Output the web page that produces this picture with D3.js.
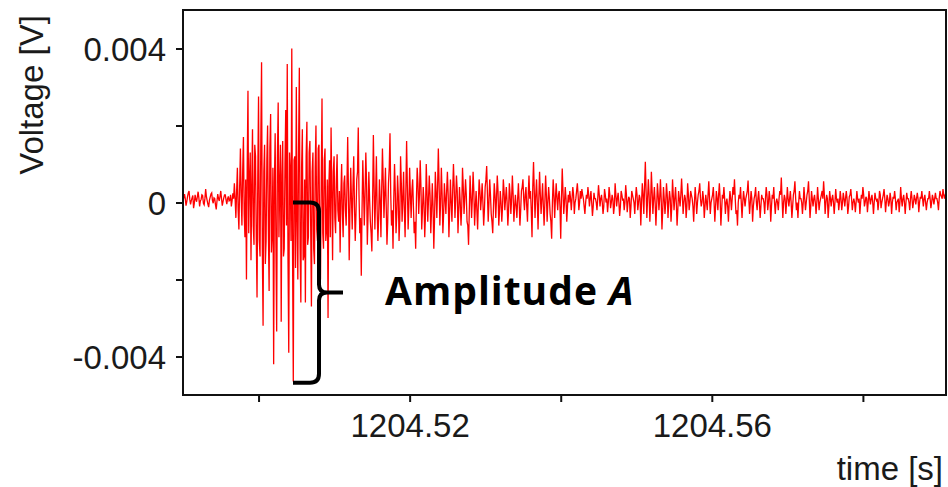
<!DOCTYPE html>
<html>
<head>
<meta charset="utf-8">
<script src="https://cdn.jsdelivr.net/npm/d3@7"></script>
<style>
  body { margin: 0; background: #ffffff; }
  svg text { font-family: "Liberation Sans", Arial, Helvetica, sans-serif; }
</style>
</head>
<body>
<svg id="chart" width="948" height="487"></svg>
<script>
// Recording: acoustic emission burst, sampled at 10 kHz
const startTime = 1204.490;      // s, first sample
const sampleInterval = 0.0001;   // s between samples

// Sensor voltage in millivolts, one value per sample
const voltage_mV = [
  // quiet baseline before the event
  0.05,0.12, 0.22,0.10, -0.08,0.02, 0.15,0.25, 0.30,0.08, -0.05,0.05, 0.12,0.18, -0.15,-0.02, 0.20,0.08, 0.02,0.15,
  0.28,0.12, -0.10,0.04, 0.08,0.20, 0.18,-0.02, -0.06,0.10, 0.35,0.15, 0.05,-0.05, -0.12,0.06, 0.14,0.22, 0.25,0.05,
  -0.02,0.12, 0.10,-0.06, -0.18,0.04, 0.22,0.10, 0.04,0.16, 0.30,0.10, -0.08,0.02, 0.12,0.20, 0.20,0.06, -0.04,0.10,
  0.16,0.04, 0.06,0.20, -0.10,0.05, 0.24,0.10,
  // onset and main burst
  0.5,0.1, -0.4,0.3, 0.9,-0.2, -0.7,0.4, 1.4,0.2, -0.6,0.8, 1.7,-0.3, -0.9,0.6,
  -2.0,0.9, 2.9,-0.8, 0.6,1.3, -1.5,0.4, 1.9,-0.6, -1.1,1.5, 1.2,-0.9, -2.47,0.7, 2.75,-1.0, -1.4,1.6,
  3.64,-1.2, -3.2,0.8, 1.5,-1.6, -1.0,1.1, 2.0,-0.7, -2.3,1.4, 2.3,-1.3, -0.8,0.9, -4.2,0.5, 1.8,-1.1,
  -3.35,1.2, 2.6,-0.9, 0.4,1.5, -3.1,0.7, 1.6,-1.4, -1.2,1.0, 2.4,-0.6, 3.6,-1.5, -3.9,1.3, 0.8,-1.0,
  4.0,-1.3, -4.65,1.1, 1.2,-1.7, 3.0,-0.5, -2.0,1.4, 3.5,-1.2, -2.6,0.9, 1.9,-1.5, -1.4,0.6, -2.6,1.2,
  2.1,-1.1, -0.9,1.3, 1.6,-0.6, -2.7,0.8, 1.3,-1.2, -1.6,0.9, 2.0,-0.7, -1.0,1.4, 1.5,-1.3, -2.0,0.5,
  2.7,-0.8, -1.2,1.1, 1.4,-1.0, -0.7,0.6, -3.0,0.4, 1.1,-0.9, 1.95,0.3, -1.5,0.8,
  // decaying coda
  1.2,-0.4, -0.8,0.6, 1.25,-0.2, -0.5,0.3, -1.3,0.2, 1.0,-0.3, -0.9,0.5, 0.7,-0.2, -0.6,0.4, 1.7,0.3,
  -1.5,-0.2, 0.9,0.1, -0.7,0.4, 1.2,-0.1, -1.0,-0.3, 0.6,0.8, 1.95,0.2, -0.8,-0.4, -1.9,-0.2, 1.1,0.3,
  -0.6,0.2, 1.3,0.5, -1.1,-0.3, 0.8,0.1, -0.5,-0.8, -1.27,0.0, 1.75,0.4, -0.7,0.2, 1.2,-0.2, -1.0,-0.4,
  0.6,0.1, -0.9,0.3, 1.4,0.6, -0.4,0.2, 0.9,-0.1, -1.1,-0.5, 0.5,0.9, 1.8,0.2, -0.6,-0.2, -1.2,0.1,
  1.0,0.3, -0.8,-0.3, 0.7,0.2, -1.0,-0.4, 1.2,0.5, -0.5,0.1, 0.8,-0.2, -0.9,0.3, 1.6,0.4, -0.7,-0.1,
  0.9,0.2, -0.4,0.3, 0.6,-0.1, -0.8,-0.5, -1.2,0.1, 0.9,0.5, -0.3,0.2, 1.1,0.4, -0.7,-0.2, 0.4,0.0,
  -0.9,-0.3, 1.0,0.3, -0.5,0.1, 0.7,0.2, -0.8,-0.2, 0.5,-0.1, -1.2,-0.4, 0.8,0.3, -0.4,0.4, 1.4,0.5,
  -0.6,0.0, 0.9,0.2, -0.8,-0.3, 0.5,0.1, -0.3,0.3, 0.8,0.2, -0.9,-0.2, 0.6,0.0, -0.5,0.3, 1.0,0.4,
  -0.4,0.1, 0.7,0.3, -0.8,-0.2, 0.4,0.0, -0.6,-0.1, 0.9,0.4, -0.3,0.1, 0.6,0.2, -0.5,-0.6, -1.1,-0.2,
  0.7,0.2, -0.4,0.1, 0.8,0.3, -0.6,-0.1, 0.3,-0.2, -0.7,0.0, 0.6,0.3, -0.2,0.1, 0.5,0.0, -0.6,-0.2,
  0.4,0.6, 0.95,0.2, -0.5,0.0, 0.6,0.2, -0.3,-0.5, -0.8,-0.1, 0.5,0.2, -0.4,0.1, 0.7,0.3, -0.6,-0.2,
  0.3,0.0, -0.5,-0.1, 0.6,0.3, -0.2,0.1, 0.4,0.0, -0.6,-0.2, 0.5,0.2, -0.3,0.1, 0.7,0.2, -0.5,-0.1,
  0.2,-0.1, -0.4,0.1, 0.5,0.0, -0.6,-0.2, 0.3,0.4, 0.6,0.1, -0.2,0.2, 0.4,-0.1, -0.5,0.2, 0.7,0.1,
  0.3,-0.2, -0.9,0.4, 1.05,0.3, -0.4,0.2, 0.6,0.0, -0.7,0.1, 0.8,0.2, -0.3,0.1, 0.5,-0.1, -0.6,0.0,
  0.7,0.2, -0.5,0.0, 0.4,0.1, -0.3,-0.5, -0.94,0.0, 0.6,0.2, -0.4,0.1, 0.5,0.1, -0.2,0.2, 0.3,-0.1,
  -0.94,0.1, 0.88,0.3, -0.3,0.0, 0.4,0.1, -0.5,-0.1, 0.2,0.0,
  // residual noise
  0.3,0.1, -0.2,0.1, 0.4,0.2, -0.3,0.0, 0.1,0.3, 0.5,0.2, -0.2,0.0, 0.3,0.1, 0.35,0.2, 0.1,-0.1,
  -0.3,0.0, 0.2,0.1, 0.4,0.2, -0.1,0.1, 0.3,0.0, -0.35,-0.1, 0.25,0.1, 0.1,0.0, -0.2,0.1, 0.45,0.2,
  -0.1,0.1, 0.2,0.0, -0.3,-0.1, 0.35,0.2, 0.0,0.1, -0.25,0.0, 0.4,0.2, -0.15,0.0, 0.2,0.1, -0.3,-0.1,
  0.5,0.2, -0.1,0.1, 0.25,0.0, -0.35,-0.1, 0.3,0.2, 0.05,0.1, -0.2,0.0, 0.45,0.2, -0.25,0.0, 0.15,0.1,
  -0.4,-0.1, 0.3,0.2, 0.1,0.0, -0.3,0.1, 0.4,0.2, -0.2,0.0, 0.2,0.1,
  -0.6,0.0, 0.5,0.2, -0.3,0.4, 1.06,0.3, -0.4,0.1, 0.6,0.2, -0.5,0.0, 0.8,0.3, -0.3,0.1, 0.4,0.0,
  -0.6,-0.1, 0.5,0.2, -0.2,0.1, 0.6,0.1, -0.7,-0.2, 0.4,0.1, -0.3,0.0,
  0.5,0.2, -0.4,0.0, 0.3,0.1, -0.5,-0.1, 0.6,0.2, -0.2,0.1, 0.4,0.0, -0.6,-0.2, 0.3,0.1, -0.1,0.2,
  0.62,0.2, -0.3,0.0, 0.2,0.1, -0.4,-0.1, 0.5,0.2, -0.2,0.0, 0.3,0.2, 0.1,-0.1, -0.5,0.0, 0.4,0.1,
  -0.3,0.0, 0.2,0.3, 0.5,0.1, -0.1,0.0, 0.3,0.1, -0.4,-0.1, 0.2,0.0, -0.2,0.2, 0.55,0.1, -0.3,0.0,
  0.1,0.2, 0.4,0.0, -0.5,-0.1, 0.3,0.1, -0.2,0.2, 0.5,0.1, -0.6,-0.2, 0.2,0.1, 0.4,0.1, -0.3,0.0,
  0.1,-0.1, -0.5,0.0, 0.3,0.1, -0.2,0.1, 0.4,0.2, 0.6,0.1, -0.3,-0.2, -0.6,0.0, 0.2,0.1, 0.4,0.0,
  -0.4,0.0, 0.3,0.1, -0.1,0.1, 0.2,0.3, 0.57,0.1, -0.3,0.0, 0.3,0.1, -0.5,-0.1, 0.1,0.2, 0.4,0.0,
  -0.2,0.1, 0.3,0.0, -0.4,-0.1, 0.2,0.1, 0.1,0.0, -0.3,0.1, 0.4,0.2, -0.2,0.0, 0.3,0.1, -0.5,-0.1,
  0.2,0.1, 0.4,0.0, -0.3,0.0, 0.1,0.0, -0.2,0.1, 0.3,0.2, 0.65,0.1, -0.4,0.0, 0.2,0.1, -0.3,0.0,
  0.4,0.1, -0.1,0.1, 0.3,0.0, -0.4,-0.1, 0.2,0.3, 0.55,0.1, -0.2,0.0, -0.4,0.0, 0.3,0.1, 0.1,0.0,
  -0.3,0.0, 0.4,0.1, -0.2,0.0, 0.2,0.3, 0.55,0.1, -0.4,-0.1, 0.3,0.1, -0.1,0.1, 0.2,0.0, -0.3,0.0,
  0.4,0.1, -0.2,0.0, 0.1,0.2, 0.3,0.1, 0.55,0.2, -0.3,0.0, 0.2,0.1, -0.4,-0.1, 0.3,0.1, -0.1,0.1,
  0.2,0.0, -0.3,0.0, 0.35,0.1, 0.0,0.1, -0.2,0.0, 0.3,0.1,
  -0.2,0.0, 0.25,0.1, -0.1,0.1, 0.3,0.1, -0.3,-0.1, 0.15,0.2, 0.35,0.1, -0.2,0.0, 0.1,0.0, -0.25,0.0,
  0.3,0.1, 0.0,0.1, -0.3,0.0, 0.2,0.1, 0.4,0.2, -0.1,0.0, 0.15,0.1, -0.25,0.0, 0.3,0.1, -0.05,0.1,
  0.2,0.0, -0.3,0.0, 0.25,0.1, 0.05,0.1, -0.2,0.0, 0.3,0.2, -0.15,0.0, 0.1,0.2, 0.35,0.1, -0.25,0.0,
  0.2,0.1, -0.1,0.0, 0.25,0.1, -0.3,0.0, 0.15,0.1, 0.3,0.1, -0.2,0.0, 0.05,0.1, -0.25,0.0, 0.4,0.1,
  -0.1,0.1, 0.2,0.0, -0.3,0.0, 0.25,0.1, 0.1,0.0, -0.2,0.1, 0.3,0.1, -0.15,0.0, 0.2,0.1, -0.05,0.1,
  0.25,0.1, -0.25,0.0, 0.15,0.1, 0.3,0.1, -0.1,0.1, 0.2,0.0, -0.2,0.0, 0.1,0.1, 0.3,0.1, -0.15,0.0,
  0.2,0.1, -0.05,0.1, 0.25,0.1, 0.1,0.0, -0.2,0.1, 0.3,0.2, 0.15,0.1, 0.35,0.2, 0.1,0.2, 0.25,0.1
];

// Axis ticks (every other major tick carries a label)
const xTicks = [1204.50, 1204.52, 1204.54, 1204.56, 1204.58];
const xTickLabels = ["", "1204.52", "", "1204.56", ""];
const yTicks = [-0.004, -0.002, 0, 0.002, 0.004];
const yTickLabels = ["-0.004", "", "0", "", "0.004"];

const xTitle = "time [s]";
const yTitle = "Voltage [V]";
const annotationText = "Amplitude ";
const annotationSymbol = "A";

const svg = d3.select("#chart");
const plot = { left: 183, top: 10, right: 946, bottom: 395 };

const x = d3.scaleLinear()
  .domain([1204.490, 1204.591])
  .range([plot.left, plot.right]);
const y = d3.scaleLinear()
  .domain([-0.005, 0.005])
  .range([plot.bottom, plot.top]);

const samples = voltage_mV.map((mv, i) => ({
  t: startTime + i * sampleInterval,
  v: mv / 1000
}));

svg.append("defs").append("clipPath").attr("id", "plot-clip")
  .append("rect")
  .attr("x", plot.left).attr("y", plot.top)
  .attr("width", plot.right - plot.left)
  .attr("height", plot.bottom - plot.top);

// Waveform
const line = d3.line().x(d => x(d.t)).y(d => y(d.v));
svg.append("path")
  .datum(samples)
  .attr("clip-path", "url(#plot-clip)")
  .attr("fill", "none")
  .attr("stroke", "#ff0000")
  .attr("stroke-width", 1.3)
  .attr("stroke-linejoin", "miter")
  .attr("d", line);

// Axes with outward ticks
const xAxis = d3.axisBottom(x)
  .tickValues(xTicks)
  .tickSize(7)
  .tickPadding(12)
  .tickFormat((d, i) => xTickLabels[i]);
const gx = svg.append("g")
  .attr("transform", `translate(0,${plot.bottom})`)
  .call(xAxis);

const yAxis = d3.axisLeft(y)
  .tickValues(yTicks)
  .tickSize(7)
  .tickPadding(10)
  .tickFormat((d, i) => yTickLabels[i]);
const gy = svg.append("g")
  .attr("transform", `translate(${plot.left},0)`)
  .call(yAxis);

[gx, gy].forEach(g => {
  g.select(".domain").remove();
  g.selectAll(".tick line").attr("stroke", "#111").attr("stroke-width", 2);
  g.selectAll(".tick text")
    .attr("fill", "#1a1a1a")
    .style("font-size", "33px")
    .style("font-family", "'Liberation Sans', Arial, sans-serif");
});
gx.selectAll(".tick text").attr("dy", "0.71em");
gy.selectAll(".tick text").attr("dy", "0.36em");

// Plot frame
svg.append("rect")
  .attr("x", plot.left).attr("y", plot.top)
  .attr("width", plot.right - plot.left)
  .attr("height", plot.bottom - plot.top)
  .attr("fill", "none")
  .attr("stroke", "#111")
  .attr("stroke-width", 2);

// Axis titles
svg.append("text")
  .attr("x", 943).attr("y", 480)
  .attr("text-anchor", "end")
  .attr("fill", "#1a1a1a")
  .style("font-size", "33px")
  .text(xTitle);

svg.append("text")
  .attr("transform", "translate(43,95) rotate(-90)")
  .attr("text-anchor", "middle")
  .attr("fill", "#1a1a1a")
  .style("font-size", "33px")
  .text(yTitle);

// Brace marking the peak-to-peak span of the burst
const braceTop = y(0);
const braceBottom = y(-0.00468);
const braceMid = (braceTop + braceBottom) / 2;
const bx0 = 293, bx1 = 319, tip = 343;
const brace = d3.path();
brace.moveTo(bx0, braceTop);
brace.lineTo(bx1 - 9, braceTop);
brace.quadraticCurveTo(bx1, braceTop, bx1, braceTop + 9);
brace.lineTo(bx1, braceMid - 8);
brace.quadraticCurveTo(bx1, braceMid, bx1 + 8, braceMid);
brace.lineTo(tip, braceMid);
brace.moveTo(bx1 + 8, braceMid);
brace.quadraticCurveTo(bx1, braceMid, bx1, braceMid + 8);
brace.lineTo(bx1, braceBottom - 9);
brace.quadraticCurveTo(bx1, braceBottom, bx1 - 9, braceBottom);
brace.lineTo(bx0, braceBottom);
svg.append("path")
  .attr("d", brace.toString())
  .attr("fill", "none")
  .attr("stroke", "#000")
  .attr("stroke-width", 4);

const note = svg.append("text")
  .attr("x", 385).attr("y", 305)
  .attr("fill", "#000")
  .style("font-family", "'Open Sans', Lato, sans-serif")
  .style("font-weight", "bold")
  .style("font-size", "39px")
  .style("letter-spacing", "1px");
note.append("tspan").text(annotationText);
note.append("tspan").style("font-style", "italic").text(annotationSymbol);
</script>
</body>
</html>
